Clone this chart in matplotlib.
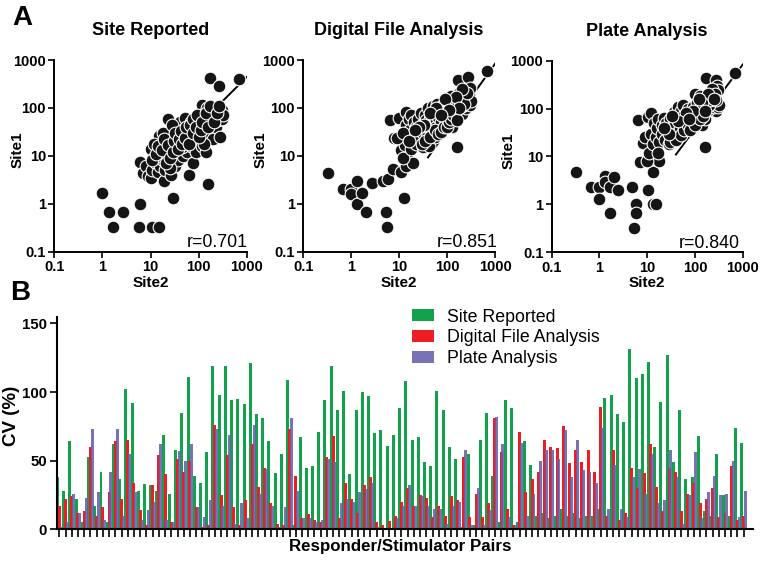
import matplotlib
matplotlib.use("Agg")
import matplotlib.pyplot as plt
from matplotlib.ticker import FixedLocator, NullLocator

plt.rcParams["font.family"] = ["Liberation Sans", "DejaVu Sans"]

W, H = 764, 564

# ---- panel A: (Site2, Site1) pairs ----
site_rep = [(1.0, 1.65), (1.35, 0.66), (1.7, 0.32), (2.7, 0.66), (6, 1.0), (5.8, 0.32), (11, 0.32),
            (15, 0.32), (30, 1.35), (160, 2.6), (62, 4), (6, 7.5), (7, 4.3), (8, 6), (9, 3.8), (10, 3.5),
            (10, 14), (11, 5), (12, 9), (13, 7), (14, 4.5), (15, 26), (15, 12), (16, 6), (17, 18), (18, 8),
            (19, 3), (20, 10), (20, 5), (22, 22), (22, 14), (23, 60), (24, 7), (25, 12), (26, 20), (27, 4),
            (28, 9), (30, 15), (30, 26), (32, 6), (34, 11), (35, 38), (36, 19), (38, 8), (40, 14), (40, 28),
            (42, 50), (45, 22), (47, 10), (48, 35), (50, 17), (52, 62), (55, 28), (58, 12), (60, 40), (60, 22),
            (65, 30), (68, 16), (70, 50), (72, 25), (75, 7), (80, 38), (85, 20), (90, 12), (95, 32), (100, 45),
            (105, 25), (110, 60), (115, 16), (120, 115), (125, 35), (130, 50), (130, 75), (140, 12), (150, 100),
            (150, 28), (170, 420), (170, 60), (180, 45), (190, 80), (200, 70), (200, 22), (220, 100), (230, 40),
            (250, 55), (270, 290), (280, 25), (300, 60), (300, 90), (320, 70), (700, 400), (12, 18), (18, 30),
            (28, 45), (45, 15), (85, 55), (130, 18), (25, 5.5), (16, 10),
            (11, 8), (13, 11), (14, 16), (17, 13), (19, 22), (21, 7), (23, 17), (26, 9), (29, 12), (31, 20),
            (33, 30), (37, 14), (39, 22), (43, 33), (46, 18), (52, 24), (56, 40), (62, 18), (66, 45), (75, 30),
            (78, 60), (88, 40), (92, 70), (100, 25), (110, 35), (120, 50), (140, 80), (160, 40), (175, 110),
            (210, 50), (240, 80), (260, 110)]
digital = [(0.33, 4.3), (0.66, 2.0), (1.0, 2.0), (1.0, 1.6), (1.3, 3.0), (1.35, 1.0), (1.7, 1.65), (2.0, 0.66),
           (2.7, 2.7), (4.7, 3.0), (5.8, 3.3), (5.3, 0.66), (5.6, 0.32), (6.5, 56), (7.5, 5.2), (7.7, 24),
           (11, 4.5), (12.5, 1.35), (14, 6), (14.5, 11), (19, 7), (160, 15), (10, 62), (14, 84), (11, 13),
           (12, 9), (13, 17), (14, 45), (15, 25), (16, 60), (17, 35), (18, 14), (18, 70), (20, 50), (20, 28),
           (22, 18), (23, 40), (25, 60), (25, 30), (27, 22), (28, 80), (30, 45), (32, 15), (32, 30), (35, 70),
           (36, 55), (38, 25), (40, 100), (40, 40), (42, 16), (45, 60), (48, 30), (50, 110), (50, 45), (55, 80),
           (55, 25), (58, 55), (60, 40), (62, 120), (65, 65), (70, 35), (70, 90), (75, 50), (80, 110), (85, 70),
           (90, 45), (95, 95), (100, 60), (110, 120), (115, 80), (120, 180), (125, 40), (130, 100), (140, 60),
           (150, 130), (160, 80), (170, 390), (180, 200), (190, 110), (200, 75), (220, 150), (240, 230),
           (250, 100), (270, 450), (280, 180), (300, 260), (300, 115), (320, 140), (690, 600), (9, 24), (12, 30),
           (30, 18), (35, 20), (45, 25), (55, 35), (65, 28), (75, 32), (85, 40), (100, 40), (110, 50), (120, 60),
           (140, 90), (170, 120), (200, 110), (210, 160), (230, 120), (260, 200), (200, 250), (150, 170),
           (90, 150), (60, 100), (45, 80), (33, 45), (26, 40), (16, 20), (21, 35), (130, 70), (160, 55),
           (180, 100), (110, 90), (75, 70)]
plate = [(0.32, 4.7), (0.65, 2.3), (0.98, 2.3), (1.0, 1.3), (1.3, 4.0), (1.3, 3.0), (1.7, 2.3), (2.0, 3.7),
         (1.65, 0.66), (2.5, 2.0), (4.7, 2.3), (5.8, 1.0), (5.8, 0.66), (5.3, 0.32), (7, 7.5), (10.5, 2.0),
         (13, 1.0), (15, 1.0), (13, 4.7), (18, 8), (6.5, 58), (10.5, 66), (12, 80), (160, 16), (8, 19), (9, 25),
         (10, 8), (11, 12), (170, 430), (270, 390), (700, 550), (290, 300), (100, 200), (280, 90), (12, 30),
         (13, 18), (14, 50), (15, 25), (16, 40), (17, 60), (18, 20), (20, 45), (20, 30), (22, 65), (24, 22),
         (25, 50), (27, 35), (28, 18), (30, 60), (32, 40), (35, 25), (36, 85), (38, 50), (40, 30), (42, 70),
         (45, 110), (48, 40), (50, 60), (52, 90), (55, 120), (58, 35), (60, 75), (65, 50), (70, 100), (75, 40),
         (80, 60), (85, 80), (90, 110), (95, 45), (100, 70), (110, 130), (115, 55), (120, 90), (130, 180),
         (140, 45), (150, 100), (160, 60), (180, 140), (190, 95), (200, 190), (220, 230), (240, 170),
         (250, 110), (300, 250), (300, 110), (320, 120),
         (30, 20), (40, 22), (50, 28), (60, 35), (70, 45), (80, 35), (90, 55), (100, 45), (110, 80), (130, 60),
         (150, 70), (170, 110), (200, 120), (210, 150), (230, 260), (260, 200), (280, 150), (190, 200),
         (140, 130), (90, 90), (65, 80), (45, 55), (28, 30), (22, 40), (17, 12), (120, 160), (160, 90),
         (250, 160), (75, 60), (33, 70)]

# regression line end points (Site2, Site1)
fit_rep = ([8, 1000], [3.5, 440])
fit_dig = ([40, 1000], [9.3, 830])
fit_pla = ([40, 1000], [11, 830])

titles = ["Site Reported", "Digital File Analysis", "Plate Analysis"]
r_vals = ["r=0.701", "r=0.851", "r=0.840"]
log_ticks = [0.1, 1, 10, 100, 1000]
log_labels = ["0.1", "1", "10", "100", "1000"]

# ---- panel B: CV (%) per responder/stimulator pair ----
cv_site = [38, 28, 64, 22, 5, 53, 17, 42, 5, 62,
           37, 102, 92, 28, 33, 32, 28, 69, 26, 58,
           85, 111, 39, 34, 56, 119, 98, 119, 94, 95,
           91, 121, 84, 81, 64, 41, 55, 109, 3, 67,
           45, 46, 71, 94, 119, 87, 101, 40, 87, 100,
           97, 70, 72, 61, 69, 88, 108, 65, 67, 49,
           46, 101, 87, 60, 51, 2, 55, 3, 65, 85,
           39, 5, 94, 88, 5, 64, 47, 10, 12, 8,
           10, 15, 10, 12, 8, 10, 10, 15, 96, 98,
           84, 78, 131, 110, 113, 122, 60, 93, 127, 49,
           87, 37, 38, 68, 13, 10, 55, 25, 10, 74, 63]
cv_digital = [17, 22, 24, 12, 13, 60, 10, 16, 27, 64,
              22, 65, 34, 14, 3, 32, 54, 40, 5, 51,
              42, 50, 16, 2, 3, 76, 25, 54, 16, 3,
              21, 62, 31, 45, 19, 4, 3, 73, 39, 8,
              11, 7, 5, 53, 68, 8, 34, 22, 12, 32,
              38, 5, 3, 6, 10, 20, 30, 17, 25, 23,
              9, 17, 10, 24, 21, 53, 9, 26, 9, 19,
              81, 56, 15, 3, 71, 27, 37, 42, 65, 60,
              59, 75, 48, 58, 49, 58, 42, 89, 10, 58,
              7, 12, 45, 30, 41, 62, 31, 13, 45, 42,
              13, 26, 34, 19, 22, 30, 9, 12, 46, 7, 10]
cv_plate = [2, 5, 26, 12, 23, 73, 27, 7, 42, 73,
            10, 55, 27, 7, 14, 20, 62, 7, 5, 57,
            50, 62, 16, 9, 21, 73, 17, 69, 4, 19,
            8, 76, 26, 44, 17, 2, 16, 81, 28, 8,
            8, 5, 7, 51, 49, 19, 22, 20, 27, 29,
            34, 2, 1, 1, 8, 17, 32, 17, 24, 17,
            15, 15, 4, 17, 20, 58, 3, 30, 3, 14,
            82, 62, 9, 3, 63, 10, 26, 50, 58, 58,
            51, 72, 38, 65, 43, 42, 34, 74, 15, 47,
            15, 9, 38, 44, 26, 55, 19, 21, 58, 38,
            4, 25, 56, 8, 27, 39, 25, 26, 50, 9, 28]
series_names = ["Site Reported", "Digital File Analysis", "Plate Analysis"]

GREEN, RED, BLUE = "#12a24b", "#ee1d23", "#6460ab"


def px_axes(fig, l, t, r, b):
    return fig.add_axes([l / W, 1 - b / H, (r - l) / W, (b - t) / H])


fig = plt.figure(figsize=(W / 100, H / 100), dpi=100)

boxes = [(54.3, 60, 246.7, 251.7), (303.3, 60, 495, 251.7), (551.7, 60.7, 742.7, 252.3)]
data = [site_rep, digital, plate]
fits = [fit_rep, fit_dig, fit_pla]
r_pos = [1.003, 1.012, 0.986]
ylab_x = [-0.153, -0.184, -0.187]
for box, pts, fit, title, rtxt, rx, lx in zip(boxes, data, fits, titles, r_vals, r_pos, ylab_x):
    ax = px_axes(fig, *box)
    ax.set_xscale("log"); ax.set_yscale("log")
    ax.set_xlim(0.1, 1000); ax.set_ylim(0.1, 1000)
    ax.plot(fit[0], fit[1], color="black", lw=1.4, zorder=2)
    xs = [p[0] for p in pts]; ys = [p[1] for p in pts]
    ax.scatter(xs, ys, s=84, color="#151515", edgecolors="white", linewidths=0.8, zorder=3, clip_on=False)
    for a in (ax.xaxis, ax.yaxis):
        a.set_major_locator(FixedLocator(log_ticks)); a.set_minor_locator(NullLocator())
    ax.set_xticklabels(log_labels, fontweight="bold", fontsize=10.5)
    ax.set_yticklabels(log_labels, fontweight="bold", fontsize=10.5)
    ax.tick_params(length=4, width=1.2, pad=2)
    for s in ("top", "right"):
        ax.spines[s].set_visible(False)
    for s in ("left", "bottom"):
        ax.spines[s].set_linewidth(1.4)
    ax.set_xlabel("Site2", fontweight="bold", fontsize=11)
    ax.set_ylabel("Site1", fontweight="bold", fontsize=11)
    ax.xaxis.set_label_coords(0.5, -0.125)
    ax.yaxis.set_label_coords(lx, 0.53)
    ax.text(0.5, 1.155, title, transform=ax.transAxes, ha="center", va="center",
            fontweight="bold", fontsize=13)
    ax.text(rx, 0.023, rtxt, transform=ax.transAxes, ha="right", va="baseline", fontsize=12.8)

fig.text(22 / W, 1 - 18 / H, "A", fontweight="bold", fontsize=20, ha="center", va="center")
fig.text(20 / W, 1 - 293 / H, "B", fontweight="bold", fontsize=20, ha="center", va="center")

# ---- panel B ----
axb = px_axes(fig, 56.7, 316.5, 753, 529.3)
idx = list(range(len(cv_site)))
bw = 0.48
b1 = axb.bar([i - 0.3 for i in idx], cv_site, width=bw, color=GREEN, lw=0, label=series_names[0])
b2 = axb.bar(idx, cv_digital, width=bw, color=RED, lw=0, label=series_names[1])
b3 = axb.bar([i + 0.3 for i in idx], cv_plate, width=bw, color=BLUE, alpha=0.88, lw=0, label=series_names[2])
axb.set_xlim(-0.42, 111.5)
axb.set_ylim(0, 155)
axb.set_xticks(idx)
axb.set_xticklabels([])
axb.set_yticks([0, 50, 100, 150])
axb.set_yticklabels(["0", "50", "100", "150"], fontweight="bold", fontsize=10.8)
axb.tick_params(axis="x", length=6, width=1.2)
axb.tick_params(axis="y", length=5, width=1.2, pad=2)
for s in ("top", "right"):
    axb.spines[s].set_visible(False)
for s in ("left", "bottom"):
    axb.spines[s].set_linewidth(1.5)

fig.text(12 / W, 1 - 416 / H, "CV (%)", rotation=90, fontweight="bold", fontsize=13.5,
         ha="center", va="center")
fig.text(400 / W, 1 - 547 / H, "Responder/Stimulator Pairs", fontweight="bold", fontsize=12.2,
         ha="center", va="center")

axb.legend(handles=[b1, b2, b3], loc="upper left", bbox_to_anchor=(411.7 / W, 1 - 308.5 / H),
           bbox_transform=fig.transFigure, frameon=False, fontsize=12.8, borderpad=0,
           borderaxespad=0, handlelength=1.25, handleheight=0.65, handletextpad=0.75,
           labelspacing=0.22)

fig.savefig("out.png", dpi=100)
